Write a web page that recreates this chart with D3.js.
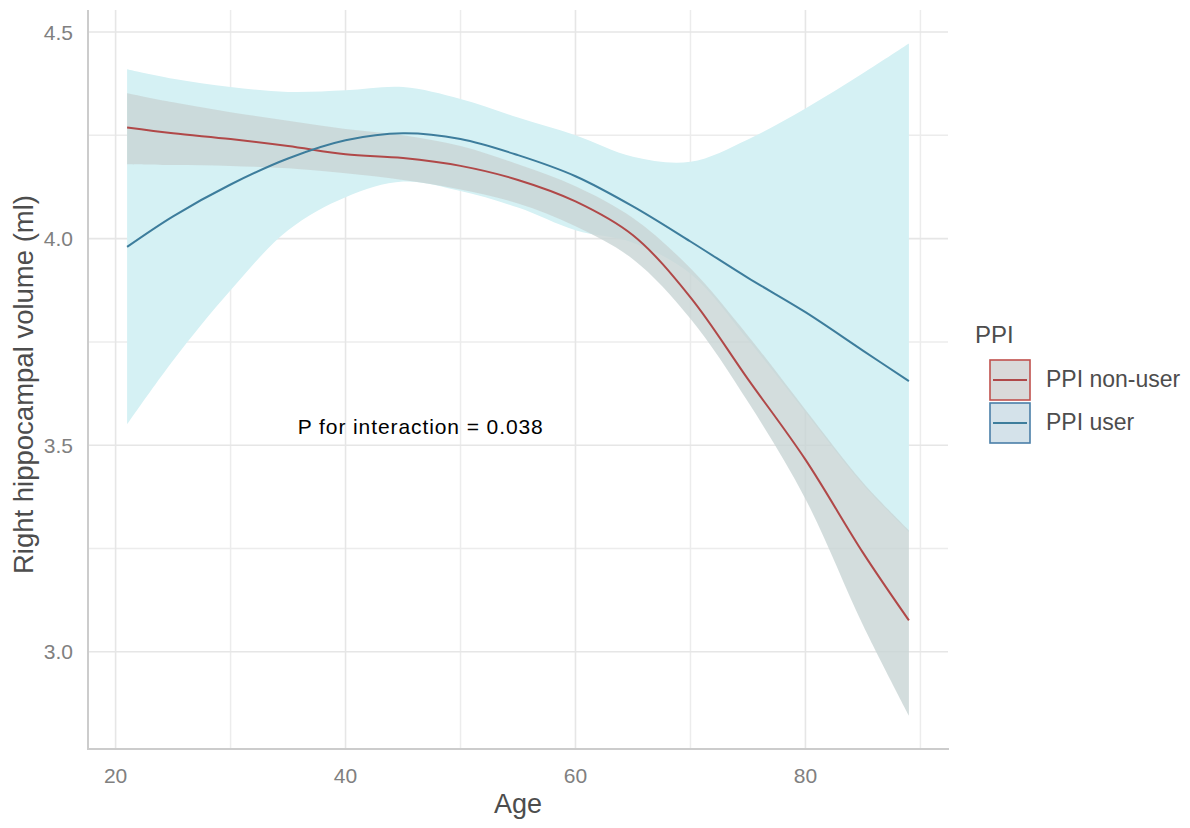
<!DOCTYPE html>
<html>
<head>
<meta charset="utf-8">
<script src="https://cdn.jsdelivr.net/npm/d3@7"></script>
<style>
  body { margin: 0; background: #fff; }
  text { font-family: "Liberation Sans", Arial, sans-serif; }
</style>
</head>
<body>
<svg id="chart"></svg>
<script>
// data
var ages = [21, 25, 30, 35, 40, 45, 50, 55, 60, 65, 70, 75, 80, 85, 89];

var nonUserFit   = [4.269, 4.255, 4.241, 4.224, 4.204, 4.195, 4.176, 4.142, 4.090, 4.008, 3.858, 3.660, 3.465, 3.240, 3.076];
var nonUserLower = [4.180, 4.178, 4.176, 4.170, 4.158, 4.142, 4.119, 4.085, 4.030, 3.950, 3.806, 3.605, 3.370, 3.065, 2.846];
var nonUserUpper = [4.352, 4.330, 4.306, 4.285, 4.265, 4.250, 4.224, 4.180, 4.127, 4.050, 3.928, 3.765, 3.586, 3.410, 3.294];

var userFit   = [3.980, 4.054, 4.131, 4.194, 4.238, 4.255, 4.241, 4.202, 4.151, 4.078, 3.993, 3.905, 3.822, 3.729, 3.655];
var userLower = [3.550, 3.705, 3.875, 4.020, 4.100, 4.138, 4.115, 4.075, 4.020, 3.990, 3.915, 3.755, 3.580, 3.405, 3.290];
var userUpper = [4.410, 4.387, 4.367, 4.355, 4.359, 4.367, 4.338, 4.293, 4.250, 4.198, 4.186, 4.240, 4.315, 4.400, 4.472];

var groups = ["PPI non-user", "PPI user"];
var xTicks = [20, 40, 60, 80];
var xMinor = [30, 50, 70, 90];
var yTicks = [3.0, 3.5, 4.0, 4.5];
var yMinor = [3.25, 3.75, 4.25];

var width = 1190, height = 828;
var panel = {left: 88, right: 948, top: 10, bottom: 749};

var svg = d3.select("#chart")
    .attr("width", width)
    .attr("height", height);

// ggplot style 5% expansion of the data range
var xr = d3.extent(ages), xpad = (xr[1] - xr[0]) * 0.05;
var yr = [d3.min(nonUserLower.concat(userLower)), d3.max(nonUserUpper.concat(userUpper))];
var ypad = (yr[1] - yr[0]) * 0.05;

var x = d3.scaleLinear()
    .domain([xr[0] - xpad, xr[1] + xpad])
    .range([panel.left, panel.right]);

var y = d3.scaleLinear()
    .domain([yr[0] - ypad, yr[1] + ypad])
    .range([panel.bottom, panel.top]);

// grid
var grid = svg.append("g");
grid.selectAll(".hmin").data(yMinor).enter().append("line")
    .attr("x1", panel.left).attr("x2", panel.right)
    .attr("y1", d => y(d)).attr("y2", d => y(d))
    .attr("stroke", "#ececec").attr("stroke-width", 1.5);
grid.selectAll(".vmin").data(xMinor).enter().append("line")
    .attr("y1", panel.top).attr("y2", panel.bottom)
    .attr("x1", d => x(d)).attr("x2", d => x(d))
    .attr("stroke", "#ececec").attr("stroke-width", 1.5);
grid.selectAll(".hmaj").data(yTicks).enter().append("line")
    .attr("x1", panel.left).attr("x2", panel.right)
    .attr("y1", d => y(d)).attr("y2", d => y(d))
    .attr("stroke", "#e6e6e6").attr("stroke-width", 1.6);
grid.selectAll(".vmaj").data(xTicks).enter().append("line")
    .attr("y1", panel.top).attr("y2", panel.bottom)
    .attr("x1", d => x(d)).attr("x2", d => x(d))
    .attr("stroke", "#e6e6e6").attr("stroke-width", 1.6);

function rows(lo, fit, hi) {
  return ages.map(function(a, i) {
    return {age: a, lo: lo[i], fit: fit[i], hi: hi[i]};
  });
}
var userRows = rows(userLower, userFit, userUpper);
var nonUserRows = rows(nonUserLower, nonUserFit, nonUserUpper);

var smooth = d3.curveCatmullRom.alpha(0.5);

var area = d3.area()
    .x(d => x(d.age))
    .y0(d => y(d.lo))
    .y1(d => y(d.hi))
    .curve(smooth);

var line = d3.line()
    .x(d => x(d.age))
    .y(d => y(d.fit))
    .curve(smooth);

svg.append("path")
    .attr("d", area(userRows))
    .attr("fill", "#d5f1f4");

svg.append("path")
    .attr("d", area(nonUserRows))
    .attr("fill", "rgb(200,212,212)")
    .attr("fill-opacity", 0.8);

svg.append("path")
    .attr("d", line(nonUserRows))
    .attr("fill", "none")
    .attr("stroke", "#b04848")
    .attr("stroke-width", 2);

svg.append("path")
    .attr("d", line(userRows))
    .attr("fill", "none")
    .attr("stroke", "#3d7d9c")
    .attr("stroke-width", 2);

// axis lines
svg.append("line")
    .attr("x1", panel.left).attr("x2", panel.left)
    .attr("y1", panel.top).attr("y2", panel.bottom + 1)
    .attr("stroke", "#cccccc").attr("stroke-width", 2);
svg.append("line")
    .attr("x1", panel.left - 1).attr("x2", panel.right + 1)
    .attr("y1", panel.bottom).attr("y2", panel.bottom)
    .attr("stroke", "#cccccc").attr("stroke-width", 2);

// tick labels
svg.selectAll(".ylab").data(yTicks).enter().append("text")
    .attr("x", 73)
    .attr("y", d => y(d))
    .attr("dy", "0.36em")
    .attr("text-anchor", "end")
    .attr("font-size", 21)
    .attr("fill", "#808080")
    .text(d => d3.format(".1f")(d));

svg.selectAll(".xlab").data(xTicks).enter().append("text")
    .attr("x", d => x(d))
    .attr("y", 783)
    .attr("text-anchor", "middle")
    .attr("font-size", 21)
    .attr("fill", "#808080")
    .text(d => d);

// axis titles
svg.append("text")
    .attr("x", (panel.left + panel.right) / 2)
    .attr("y", 813)
    .attr("text-anchor", "middle")
    .attr("font-size", 27)
    .attr("fill", "#4d4d4d")
    .text("Age");

svg.append("text")
    .attr("transform", "translate(33," + ((panel.top + panel.bottom) / 2 + 5) + ") rotate(-90)")
    .attr("text-anchor", "middle")
    .attr("font-size", 27.5)
    .attr("fill", "#4d4d4d")
    .text("Right hippocampal volume (ml)");

// annotation
svg.append("text")
    .attr("x", x(46.5))
    .attr("y", y(3.545))
    .attr("dy", "0.35em")
    .attr("text-anchor", "middle")
    .attr("font-family", "Open Sans")
    .attr("font-size", 21)
    .attr("textLength", 245)
    .attr("fill", "#000")
    .text("P for interaction = 0.038");

// legend
var legend = svg.append("g");
legend.append("text")
    .attr("x", 975).attr("y", 343)
    .attr("font-size", 24)
    .attr("fill", "#4d4d4d")
    .text("PPI");

var keyStroke = ["#c0504d", "#4a7fa8"];
var keyFill = ["#d9d9d9", "#d4e2ea"];
var keyLine = ["#b04848", "#3d7d9c"];

var keys = legend.selectAll(".key").data(groups).enter().append("g")
    .attr("transform", (d, i) => "translate(990," + (360 + i * 43) + ")");
keys.append("rect")
    .attr("width", 40).attr("height", 40)
    .attr("fill", (d, i) => keyFill[i])
    .attr("stroke", (d, i) => keyStroke[i])
    .attr("stroke-width", 1.6);
keys.append("line")
    .attr("x1", 3).attr("x2", 37)
    .attr("y1", 20).attr("y2", 20)
    .attr("stroke", (d, i) => keyLine[i])
    .attr("stroke-width", 2);
keys.append("text")
    .attr("x", 56).attr("y", 27)
    .attr("font-size", 23)
    .attr("fill", "#4d4d4d")
    .text(d => d);
</script>
</body>
</html>
